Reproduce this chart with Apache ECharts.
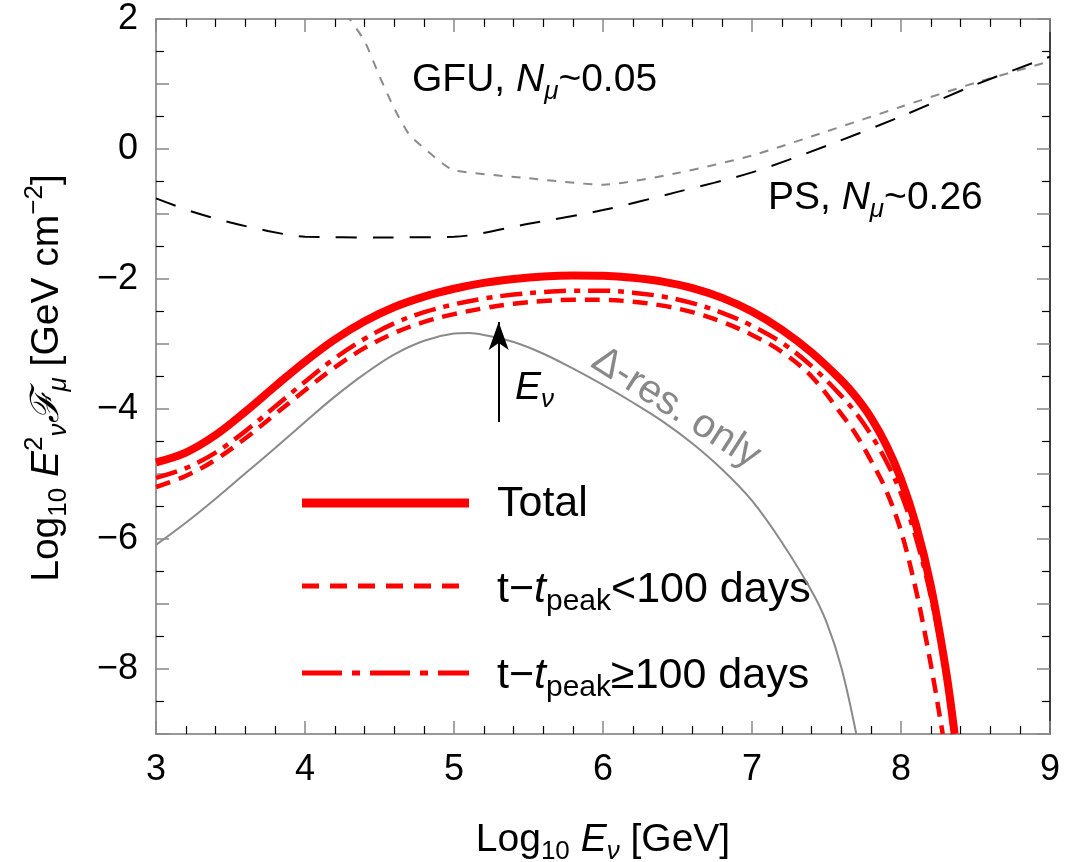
<!DOCTYPE html>
<html>
<head>
<meta charset="utf-8">
<script src="https://cdn.jsdelivr.net/npm/echarts@6/dist/echarts.min.js"></script>
<style>
  html, body { margin: 0; padding: 0; background: #fff; }
  #chart { width: 1081px; height: 862px; }
</style>
</head>
<body>
<div id="chart"></div>
<script>
// log10 E_nu [GeV] grid points and log10 E^2 F_mu curves
const xTotal = [3.0, 3.2, 3.4, 3.6, 3.8, 4.0, 4.2, 4.4, 4.6, 4.8, 5.0, 5.2, 5.4, 5.6, 5.8, 6.0, 6.2, 6.4, 6.6, 6.8, 7.0, 7.2, 7.4, 7.6, 7.7, 7.8, 7.9, 8.0, 8.1, 8.2, 8.3, 8.36];
const yTotal = [-4.82, -4.67, -4.40, -4.04, -3.65, -3.27, -2.93, -2.65, -2.43, -2.27, -2.15, -2.06, -2.00, -1.96, -1.945, -1.95, -1.98, -2.04, -2.14, -2.29, -2.50, -2.78, -3.13, -3.56, -3.82, -4.14, -4.55, -5.08, -5.78, -6.72, -8.00, -9.00];

const xEarly = [3.0, 3.2, 3.4, 3.6, 3.8, 4.0, 4.2, 4.4, 4.6, 4.8, 5.0, 5.2, 5.4, 5.6, 5.8, 6.0, 6.2, 6.4, 6.6, 6.8, 7.0, 7.2, 7.4, 7.6, 7.7, 7.8, 7.9, 8.0, 8.1, 8.2, 8.28];
const yEarly = [-5.20, -5.03, -4.78, -4.45, -4.08, -3.71, -3.36, -3.06, -2.83, -2.66, -2.54, -2.45, -2.38, -2.34, -2.32, -2.32, -2.35, -2.41, -2.51, -2.66, -2.86, -3.12, -3.50, -4.08, -4.40, -4.80, -5.25, -5.88, -6.78, -7.93, -9.00];

const xLate = [3.0, 3.2, 3.4, 3.6, 3.8, 4.0, 4.2, 4.4, 4.6, 4.8, 5.0, 5.2, 5.4, 5.6, 5.8, 6.0, 6.2, 6.4, 6.6, 6.8, 7.0, 7.2, 7.4, 7.6, 7.7, 7.8, 7.9, 8.0, 8.1, 8.2, 8.3, 8.35];
const yLate = [-5.06, -4.91, -4.67, -4.34, -3.96, -3.58, -3.22, -2.92, -2.68, -2.51, -2.39, -2.30, -2.24, -2.20, -2.18, -2.18, -2.21, -2.27, -2.37, -2.52, -2.72, -2.98, -3.34, -3.80, -4.07, -4.40, -4.80, -5.30, -5.98, -6.88, -8.10, -9.00];

const xDelta = [3.0, 3.2, 3.4, 3.6, 3.8, 4.0, 4.2, 4.4, 4.6, 4.8, 5.0, 5.1, 5.2, 5.4, 5.6, 5.8, 6.0, 6.2, 6.4, 6.6, 6.8, 7.0, 7.2, 7.4, 7.5, 7.6, 7.7];
const yDelta = [-6.09, -5.75, -5.38, -4.99, -4.60, -4.20, -3.81, -3.46, -3.16, -2.95, -2.84, -2.83, -2.86, -2.97, -3.15, -3.38, -3.63, -3.90, -4.19, -4.53, -4.93, -5.41, -6.05, -6.80, -7.28, -7.98, -9.00];

// IceCube sensitivities: point-source (PS) and gamma-ray follow-up (GFU)
const xPS = [3.0, 3.25, 3.5, 3.75, 4.0, 4.5, 5.0, 5.5, 6.0, 6.5, 7.0, 7.5, 8.0, 8.5, 9.0];
const yPS = [-0.76, -0.97, -1.13, -1.26, -1.35, -1.36, -1.35, -1.15, -0.94, -0.66, -0.36, 0.05, 0.50, 0.99, 1.42];

const xGFU = [4.15, 4.3, 4.4, 4.5, 4.6, 4.7, 4.8, 4.9, 5.0, 5.5, 6.0, 6.5, 7.0, 7.5, 8.0, 8.5, 9.0];
const yGFU = [2.55, 2.00, 1.66, 1.12, 0.62, 0.22, 0.01, -0.18, -0.33, -0.45, -0.55, -0.37, -0.10, 0.27, 0.65, 1.02, 1.35];

// arrow marking the neutrino energy
const arrowX = 5.3;
const arrowFrom = -4.2;
const arrowTo = -2.66;

// axis tick values
const xTicks = [3, 4, 5, 6, 7, 8, 9];
const yLabelled = [2, 0, -2, -4, -6, -8];

const FONT = "'Liberation Sans', Arial, Helvetica, sans-serif";
const RED = '#ff0000';
const GREY = '#8a8a8a';

const pairs = (xs, ys) => xs.map((x, i) => [x, ys[i]]);

const chart = echarts.init(document.getElementById('chart'), null, { renderer: 'canvas' });

const axisBase = {
  type: 'value',
  axisLine: { show: true, onZero: false, lineStyle: { color: '#777', width: 1.5 } },
  axisTick: { show: true, inside: true, length: 13, lineStyle: { color: '#888', width: 1.5 } },
  minorTick: { show: true, length: 8, lineStyle: { color: '#000', width: 1.2 } },
  splitLine: { show: false },
  minorSplitLine: { show: false }
};

const fmtNum = v => (v < 0 ? '\u2212' + Math.abs(v) : String(v));

const xAxisCommon = Object.assign({}, axisBase, {
  min: xTicks[0], max: xTicks[xTicks.length - 1], interval: 1,
  minorTick: Object.assign({}, axisBase.minorTick, { splitNumber: 5 })
});
const yAxisCommon = Object.assign({}, axisBase, {
  min: -9, max: 2, interval: 1,
  minorTick: Object.assign({}, axisBase.minorTick, { splitNumber: 2 })
});

const richMain = {
  n: { fontSize: 39, fontFamily: FONT, color: '#000', lineHeight: 50 },
  i: { fontSize: 39, fontFamily: FONT, fontStyle: 'italic', color: '#000', lineHeight: 50 },
  sub: { fontSize: 26, fontFamily: FONT, color: '#000', lineHeight: 22, verticalAlign: 'bottom' },
  isub: { fontSize: 26, fontFamily: FONT, fontStyle: 'italic', color: '#000', lineHeight: 22, verticalAlign: 'bottom' },
  sup: { fontSize: 26, fontFamily: FONT, color: '#000', lineHeight: 22, verticalAlign: 'top' }
};
const richLegend = {
  n: { fontSize: 43, fontFamily: FONT, color: '#000', lineHeight: 54 },
  i: { fontSize: 43, fontFamily: FONT, fontStyle: 'italic', color: '#000', lineHeight: 54 },
  sub: { fontSize: 30, fontFamily: FONT, color: '#000', lineHeight: 24, verticalAlign: 'bottom' }
};

function richText(x, y, text, rich, align) {
  const a = align || 'left';
  return {
    type: 'text', x: x, y: y, silent: true,
    style: { text: text, rich: rich, align: a, verticalAlign: 'middle', textAlign: a, textVerticalAlign: 'middle' }
  };
}

function curve(name, xs, ys, lineStyle, extra) {
  return Object.assign({
    name: name, type: 'line', xAxisIndex: 0, yAxisIndex: 0,
    data: pairs(xs, ys), showSymbol: false, smooth: 0.35,
    clip: true, silent: true, lineStyle: lineStyle
  }, extra || {});
}

const option = {
  animation: false,
  backgroundColor: '#fff',
  grid: { left: 156, right: 31, top: 19, bottom: 128, containLabel: false },
  xAxis: [
    Object.assign({}, xAxisCommon, {
      position: 'bottom',
      axisLabel: { show: true, fontSize: 36, fontFamily: FONT, color: '#000', margin: 18,
        formatter: v => (xTicks.indexOf(v) >= 0 ? String(v) : '') }
    }),
    Object.assign({}, xAxisCommon, {
      position: 'top',
      axisLabel: { show: false }
    })
  ],
  yAxis: [
    Object.assign({}, yAxisCommon, {
      position: 'left',
      axisLabel: { show: true, interval: 0, fontSize: 36, fontFamily: FONT, color: '#000', margin: 18,
        formatter: v => (yLabelled.indexOf(v) >= 0 ? fmtNum(v) : '') }
    }),
    Object.assign({}, yAxisCommon, {
      position: 'right',
      axisLine: { show: true, onZero: false, lineStyle: { color: '#000', width: 1.5 } },
      axisLabel: { show: false }
    })
  ],
  series: [
    curve('GFU', xGFU, yGFU, { color: GREY, width: 2, type: [9, 9] }, { smooth: 0.2 }),
    curve('PS', xPS, yPS, { color: '#000', width: 2, type: [21, 16] }, { smooth: 0.3 }),
    curve('Delta-resonance only', xDelta, yDelta, { color: GREY, width: 2 }, {
      markLine: {
        silent: true, animation: false,
        symbol: ['none', 'arrow'], symbolSize: [15, 28],
        label: { show: false },
        lineStyle: { color: '#000', width: 2, type: 'solid' },
        data: [[{ coord: [arrowX, arrowFrom] }, { coord: [arrowX, arrowTo] }]]
      }
    }),
    curve('Total', xTotal, yTotal, { color: RED, width: 8 }),
    curve('t-tpeak<100 days', xEarly, yEarly, { color: RED, width: 4.5, type: [15, 9] }),
    curve('t-tpeak>=100 days', xLate, yLate, { color: RED, width: 4.5, type: [22, 8, 6, 8] })
  ],
  graphic: [
    // legend
    { type: 'line', silent: true, shape: { x1: 302, y1: 503, x2: 469, y2: 503 }, style: { stroke: RED, lineWidth: 9 } },
    richText(497, 504, '{n|Total}', richLegend),
    { type: 'line', silent: true, shape: { x1: 302, y1: 586, x2: 469, y2: 586 }, style: { stroke: RED, lineWidth: 5, lineDash: [17, 11] } },
    richText(497, 590, '{n|t\u2212}{i|t}{sub|peak}{n|<100 days}', richLegend),
    { type: 'line', silent: true, shape: { x1: 302, y1: 673, x2: 469, y2: 673 }, style: { stroke: RED, lineWidth: 5, lineDash: [40, 10, 8, 10] } },
    richText(497, 676, '{n|t\u2212}{i|t}{sub|peak}{n|\u2265100 days}', richLegend),
    // axis titles
    richText(603, 840, '{n|Log}{sub|10}{n| }{i|E}{isub|\u03bd}{n| [GeV]}', richMain, 'center'),
    {
      type: 'text', x: 47, y: 378, rotation: Math.PI / 2, silent: true,
      style: {
        text: '{n|Log}{sub|10}{n| }{i|E}{sup|2}{isub|\u03bd}{i|\u2131}{isub|\u03bc}{n| [GeV cm}{sup|\u22122}{n|]}',
        rich: richMain, align: 'center', verticalAlign: 'middle', textAlign: 'center', textVerticalAlign: 'middle'
      }
    },
    // annotations
    richText(412, 80, '{n|GFU, }{i|N}{isub|\u03bc}{n|~0.05}', richMain),
    richText(768, 198, '{n|PS, }{i|N}{isub|\u03bc}{n|~0.26}', richMain),
    richText(515, 388, '{i|E}{isub|\u03bd}', richMain),
    {
      type: 'text', x: 676, y: 408, rotation: -0.57, silent: true,
      style: { text: '\u0394-res. only', fill: '#888', fontSize: 40, fontFamily: FONT,
        align: 'center', verticalAlign: 'middle', textAlign: 'center', textVerticalAlign: 'middle' }
    }
  ]
};

chart.setOption(option);
</script>
</body>
</html>
